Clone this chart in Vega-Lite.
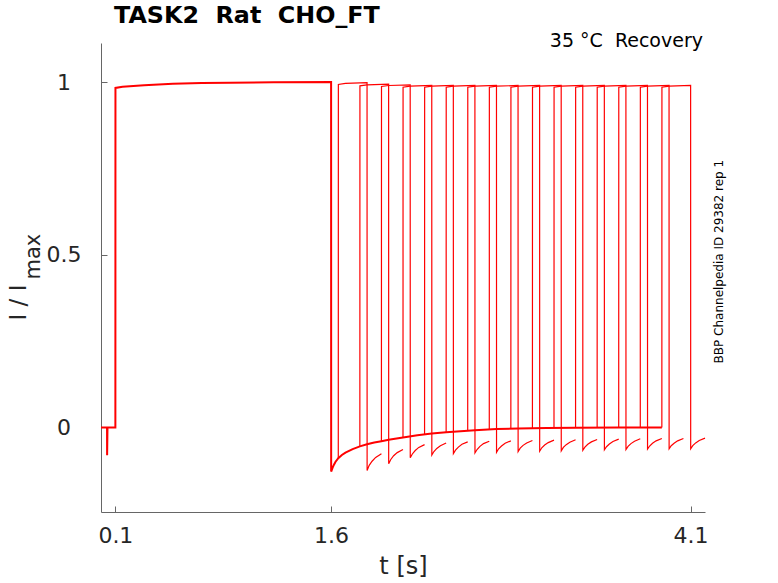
{
  "$schema": "https://vega.github.io/schema/vega-lite/v6.json",
  "width": 604,
  "height": 469,
  "autosize": {"type": "none"},
  "padding": {"left": 101, "top": 43, "right": 73, "bottom": 71},
  "background": "white",
  "config": {"view": {"stroke": null}, "font": "DejaVu Sans"},
  "title": {"text": "TASK2\u00a0\u00a0Rat\u00a0\u00a0CHO_FT", "anchor": "start", "frame": "group", "dx": 13, "offset": -15, "baseline": "alphabetic", "fontSize": 23.8, "fontWeight": "bold", "color": "#000000", "font": "DejaVu Sans"},
  "datasets": {
    "base": [
      {"t": 0, "v": 0}, {"t": 0.042, "v": 0}, {"t": 0.0425, "v": -0.081}, {"t": 0.045, "v": -0.003}, {"t": 0.05, "v": 0}, {"t": 0.1, "v": 0},
      {"t": 0.1005, "v": 0.983}, {"t": 0.15, "v": 0.986}, {"t": 0.2, "v": 0.988}, {"t": 0.3, "v": 0.991}, {"t": 0.4, "v": 0.993}, {"t": 0.5, "v": 0.995}, {"t": 0.7, "v": 0.997}, {"t": 0.9, "v": 0.998}, {"t": 1.2, "v": 0.999}, {"t": 1.6, "v": 1.0},
      {"t": 1.6005, "v": -0.128}, {"t": 1.61, "v": -0.117}, {"t": 1.62, "v": -0.108}, {"t": 1.63, "v": -0.1}, {"t": 1.65, "v": -0.089}, {"t": 1.675, "v": -0.08}, {"t": 1.7, "v": -0.073}, {"t": 1.75, "v": -0.063}, {"t": 1.8, "v": -0.055}, {"t": 1.85, "v": -0.049}, {"t": 1.9, "v": -0.044}, {"t": 1.95, "v": -0.04}, {"t": 2.0, "v": -0.036}, {"t": 2.1, "v": -0.029}, {"t": 2.2, "v": -0.023}, {"t": 2.3, "v": -0.018}, {"t": 2.4, "v": -0.014}, {"t": 2.5, "v": -0.011}, {"t": 2.6, "v": -0.008}, {"t": 2.75, "v": -0.005}, {"t": 2.9, "v": -0.003}, {"t": 3.1, "v": -0.002}, {"t": 3.3, "v": -0.001}, {"t": 3.6, "v": 0}, {"t": 3.9, "v": 0}
    ],
    "sweeps": [
      {"s": 0, "t": 1.65, "v": -0.089}, {"s": 0, "t": 1.6505, "v": 0.993}, {"s": 0, "t": 1.7, "v": 0.996}, {"s": 0, "t": 1.85, "v": 0.998}, {"s": 0, "t": 1.8505, "v": -0.125}, {"s": 0, "t": 1.865, "v": -0.11}, {"s": 0, "t": 1.885, "v": -0.098}, {"s": 0, "t": 1.91, "v": -0.087}, {"s": 0, "t": 1.95, "v": -0.076},
      {"s": 1, "t": 1.8, "v": -0.055}, {"s": 1, "t": 1.8005, "v": 0.989}, {"s": 1, "t": 1.85, "v": 0.992}, {"s": 1, "t": 2.0, "v": 0.994}, {"s": 1, "t": 2.0005, "v": -0.105}, {"s": 1, "t": 2.015, "v": -0.093}, {"s": 1, "t": 2.035, "v": -0.082}, {"s": 1, "t": 2.06, "v": -0.073}, {"s": 1, "t": 2.1, "v": -0.064},
      {"s": 2, "t": 1.95, "v": -0.04}, {"s": 2, "t": 1.9505, "v": 0.987}, {"s": 2, "t": 2.0, "v": 0.99}, {"s": 2, "t": 2.15, "v": 0.992}, {"s": 2, "t": 2.1505, "v": -0.088}, {"s": 2, "t": 2.165, "v": -0.077}, {"s": 2, "t": 2.185, "v": -0.067}, {"s": 2, "t": 2.21, "v": -0.058}, {"s": 2, "t": 2.25, "v": -0.05},
      {"s": 3, "t": 2.1, "v": -0.029}, {"s": 3, "t": 2.1005, "v": 0.985}, {"s": 3, "t": 2.15, "v": 0.988}, {"s": 3, "t": 2.3, "v": 0.99}, {"s": 3, "t": 2.3005, "v": -0.08}, {"s": 3, "t": 2.315, "v": -0.07}, {"s": 3, "t": 2.335, "v": -0.061}, {"s": 3, "t": 2.36, "v": -0.053}, {"s": 3, "t": 2.4, "v": -0.045},
      {"s": 4, "t": 2.25, "v": -0.02}, {"s": 4, "t": 2.2505, "v": 0.985}, {"s": 4, "t": 2.3, "v": 0.988}, {"s": 4, "t": 2.45, "v": 0.99}, {"s": 4, "t": 2.4505, "v": -0.076}, {"s": 4, "t": 2.465, "v": -0.066}, {"s": 4, "t": 2.485, "v": -0.057}, {"s": 4, "t": 2.51, "v": -0.049}, {"s": 4, "t": 2.55, "v": -0.042},
      {"s": 5, "t": 2.4, "v": -0.014}, {"s": 5, "t": 2.4005, "v": 0.985}, {"s": 5, "t": 2.45, "v": 0.988}, {"s": 5, "t": 2.6, "v": 0.99}, {"s": 5, "t": 2.6005, "v": -0.074}, {"s": 5, "t": 2.615, "v": -0.064}, {"s": 5, "t": 2.635, "v": -0.055}, {"s": 5, "t": 2.66, "v": -0.047}, {"s": 5, "t": 2.7, "v": -0.04},
      {"s": 6, "t": 2.55, "v": -0.0095}, {"s": 6, "t": 2.5505, "v": 0.985}, {"s": 6, "t": 2.6, "v": 0.988}, {"s": 6, "t": 2.75, "v": 0.99}, {"s": 6, "t": 2.7505, "v": -0.072}, {"s": 6, "t": 2.765, "v": -0.062}, {"s": 6, "t": 2.785, "v": -0.054}, {"s": 6, "t": 2.81, "v": -0.046}, {"s": 6, "t": 2.85, "v": -0.039},
      {"s": 7, "t": 2.7, "v": -0.006}, {"s": 7, "t": 2.7005, "v": 0.985}, {"s": 7, "t": 2.75, "v": 0.988}, {"s": 7, "t": 2.9, "v": 0.99}, {"s": 7, "t": 2.9005, "v": -0.07}, {"s": 7, "t": 2.915, "v": -0.06}, {"s": 7, "t": 2.935, "v": -0.052}, {"s": 7, "t": 2.96, "v": -0.045}, {"s": 7, "t": 3.0, "v": -0.038},
      {"s": 8, "t": 2.85, "v": -0.0035}, {"s": 8, "t": 2.8505, "v": 0.985}, {"s": 8, "t": 2.9, "v": 0.988}, {"s": 8, "t": 3.05, "v": 0.99}, {"s": 8, "t": 3.0505, "v": -0.069}, {"s": 8, "t": 3.065, "v": -0.059}, {"s": 8, "t": 3.085, "v": -0.051}, {"s": 8, "t": 3.11, "v": -0.044}, {"s": 8, "t": 3.15, "v": -0.037},
      {"s": 9, "t": 3.0, "v": -0.0025}, {"s": 9, "t": 3.0005, "v": 0.985}, {"s": 9, "t": 3.05, "v": 0.988}, {"s": 9, "t": 3.2, "v": 0.99}, {"s": 9, "t": 3.2005, "v": -0.068}, {"s": 9, "t": 3.215, "v": -0.058}, {"s": 9, "t": 3.235, "v": -0.05}, {"s": 9, "t": 3.26, "v": -0.043}, {"s": 9, "t": 3.3, "v": -0.036},
      {"s": 10, "t": 3.15, "v": -0.002}, {"s": 10, "t": 3.1505, "v": 0.985}, {"s": 10, "t": 3.2, "v": 0.988}, {"s": 10, "t": 3.35, "v": 0.99}, {"s": 10, "t": 3.3505, "v": -0.066}, {"s": 10, "t": 3.365, "v": -0.057}, {"s": 10, "t": 3.385, "v": -0.049}, {"s": 10, "t": 3.41, "v": -0.042}, {"s": 10, "t": 3.45, "v": -0.035},
      {"s": 11, "t": 3.3, "v": -0.001}, {"s": 11, "t": 3.3005, "v": 0.985}, {"s": 11, "t": 3.35, "v": 0.988}, {"s": 11, "t": 3.5, "v": 0.99}, {"s": 11, "t": 3.5005, "v": -0.065}, {"s": 11, "t": 3.515, "v": -0.056}, {"s": 11, "t": 3.535, "v": -0.048}, {"s": 11, "t": 3.56, "v": -0.041}, {"s": 11, "t": 3.6, "v": -0.034},
      {"s": 12, "t": 3.45, "v": -0.0005}, {"s": 12, "t": 3.4505, "v": 0.985}, {"s": 12, "t": 3.5, "v": 0.988}, {"s": 12, "t": 3.65, "v": 0.99}, {"s": 12, "t": 3.6505, "v": -0.064}, {"s": 12, "t": 3.665, "v": -0.055}, {"s": 12, "t": 3.685, "v": -0.047}, {"s": 12, "t": 3.71, "v": -0.04}, {"s": 12, "t": 3.75, "v": -0.033},
      {"s": 13, "t": 3.6, "v": 0}, {"s": 13, "t": 3.6005, "v": 0.985}, {"s": 13, "t": 3.65, "v": 0.988}, {"s": 13, "t": 3.8, "v": 0.99}, {"s": 13, "t": 3.8005, "v": -0.063}, {"s": 13, "t": 3.815, "v": -0.054}, {"s": 13, "t": 3.835, "v": -0.046}, {"s": 13, "t": 3.86, "v": -0.039}, {"s": 13, "t": 3.9, "v": -0.032},
      {"s": 14, "t": 3.75, "v": 0}, {"s": 14, "t": 3.7505, "v": 0.985}, {"s": 14, "t": 3.8, "v": 0.988}, {"s": 14, "t": 3.95, "v": 0.99}, {"s": 14, "t": 3.9505, "v": -0.062}, {"s": 14, "t": 3.965, "v": -0.053}, {"s": 14, "t": 3.985, "v": -0.046}, {"s": 14, "t": 4.01, "v": -0.039}, {"s": 14, "t": 4.05, "v": -0.032},
      {"s": 15, "t": 3.9, "v": 0}, {"s": 15, "t": 3.9005, "v": 0.985}, {"s": 15, "t": 3.95, "v": 0.988}, {"s": 15, "t": 4.1, "v": 0.99}, {"s": 15, "t": 4.1005, "v": -0.062}, {"s": 15, "t": 4.115, "v": -0.053}, {"s": 15, "t": 4.135, "v": -0.045}, {"s": 15, "t": 4.16, "v": -0.038}, {"s": 15, "t": 4.2, "v": -0.031}
    ]
  },
  "layer": [
    {
      "data": {"name": "base"},
      "mark": {"type": "line", "color": "#ff0000", "strokeWidth": 2},
      "encoding": {
        "x": {
          "field": "t", "type": "quantitative",
          "scale": {"domain": [0, 4.2], "nice": false, "zero": false},
          "axis": {
            "title": "t [s]", "values": [0.1, 1.6, 4.1], "format": "~g", "grid": false,
            "tickSize": -6, "labelPadding": 19.5, "labelFlush": false, "labelOverlap": false,
            "labelFontSize": 22, "labelFont": "DejaVu Sans", "labelColor": "#262626",
            "titleFontSize": 24, "titleFont": "DejaVu Sans", "titleFontWeight": "normal", "titleColor": "#262626",
            "titleBaseline": "alphabetic", "titleY": 61,
            "domainColor": "#666666", "tickColor": "#666666", "domainWidth": 1, "tickWidth": 1
          }
        },
        "y": {
          "field": "v", "type": "quantitative",
          "scale": {"domain": [-0.245, 1.113], "nice": false, "zero": false},
          "axis": {
            "title": "I / I", "values": [0, 0.5, 1], "format": "~g", "grid": false,
            "tickSize": -6, "labelPadding": 43.5, "labelAlign": "center", "labelBaseline": "middle", "labelFlush": false, "labelOverlap": false,
            "labelFontSize": 22, "labelFont": "DejaVu Sans", "labelColor": "#262626",
            "titleFontSize": 23, "titleFont": "DejaVu Sans", "titleFontWeight": "normal", "titleColor": "#262626",
            "titleAngle": 270, "titleAlign": "left", "titleBaseline": "alphabetic", "titleX": -76, "titleY": 277,
            "domainColor": "#666666", "tickColor": "#666666", "domainWidth": 1, "tickWidth": 1
          }
        }
      }
    },
    {
      "data": {"name": "sweeps"},
      "mark": {"type": "line", "color": "#ff0000", "strokeWidth": 1.2},
      "encoding": {
        "x": {"field": "t", "type": "quantitative"},
        "y": {"field": "v", "type": "quantitative"},
        "detail": {"field": "s", "type": "nominal"}
      }
    },
    {
      "data": {"values": [{"label": "max"}]},
      "mark": {"type": "text", "angle": 270, "align": "left", "baseline": "alphabetic", "dy": -61, "fontSize": 21, "font": "DejaVu Sans", "color": "#262626"},
      "encoding": {"x": {"datum": 0}, "y": {"datum": 0.428}, "text": {"field": "label"}}
    },
    {
      "data": {"values": [{"label": "35 °C\u00a0\u00a0Recovery"}]},
      "mark": {"type": "text", "align": "right", "baseline": "alphabetic", "dx": -2, "dy": 4, "fontSize": 19, "font": "DejaVu Sans", "color": "#000000"},
      "encoding": {"x": {"datum": 4.2}, "y": {"datum": 1.113}, "text": {"field": "label"}}
    },
    {
      "data": {"values": [{"label": "BBP Channelpedia ID 29382 rep 1"}]},
      "mark": {"type": "text", "angle": 270, "align": "center", "baseline": "alphabetic", "dy": 18, "fontSize": 12, "font": "DejaVu Sans", "color": "#000000"},
      "encoding": {"x": {"datum": 4.2}, "y": {"datum": 0.48}, "text": {"field": "label"}}
    }
  ]
}
